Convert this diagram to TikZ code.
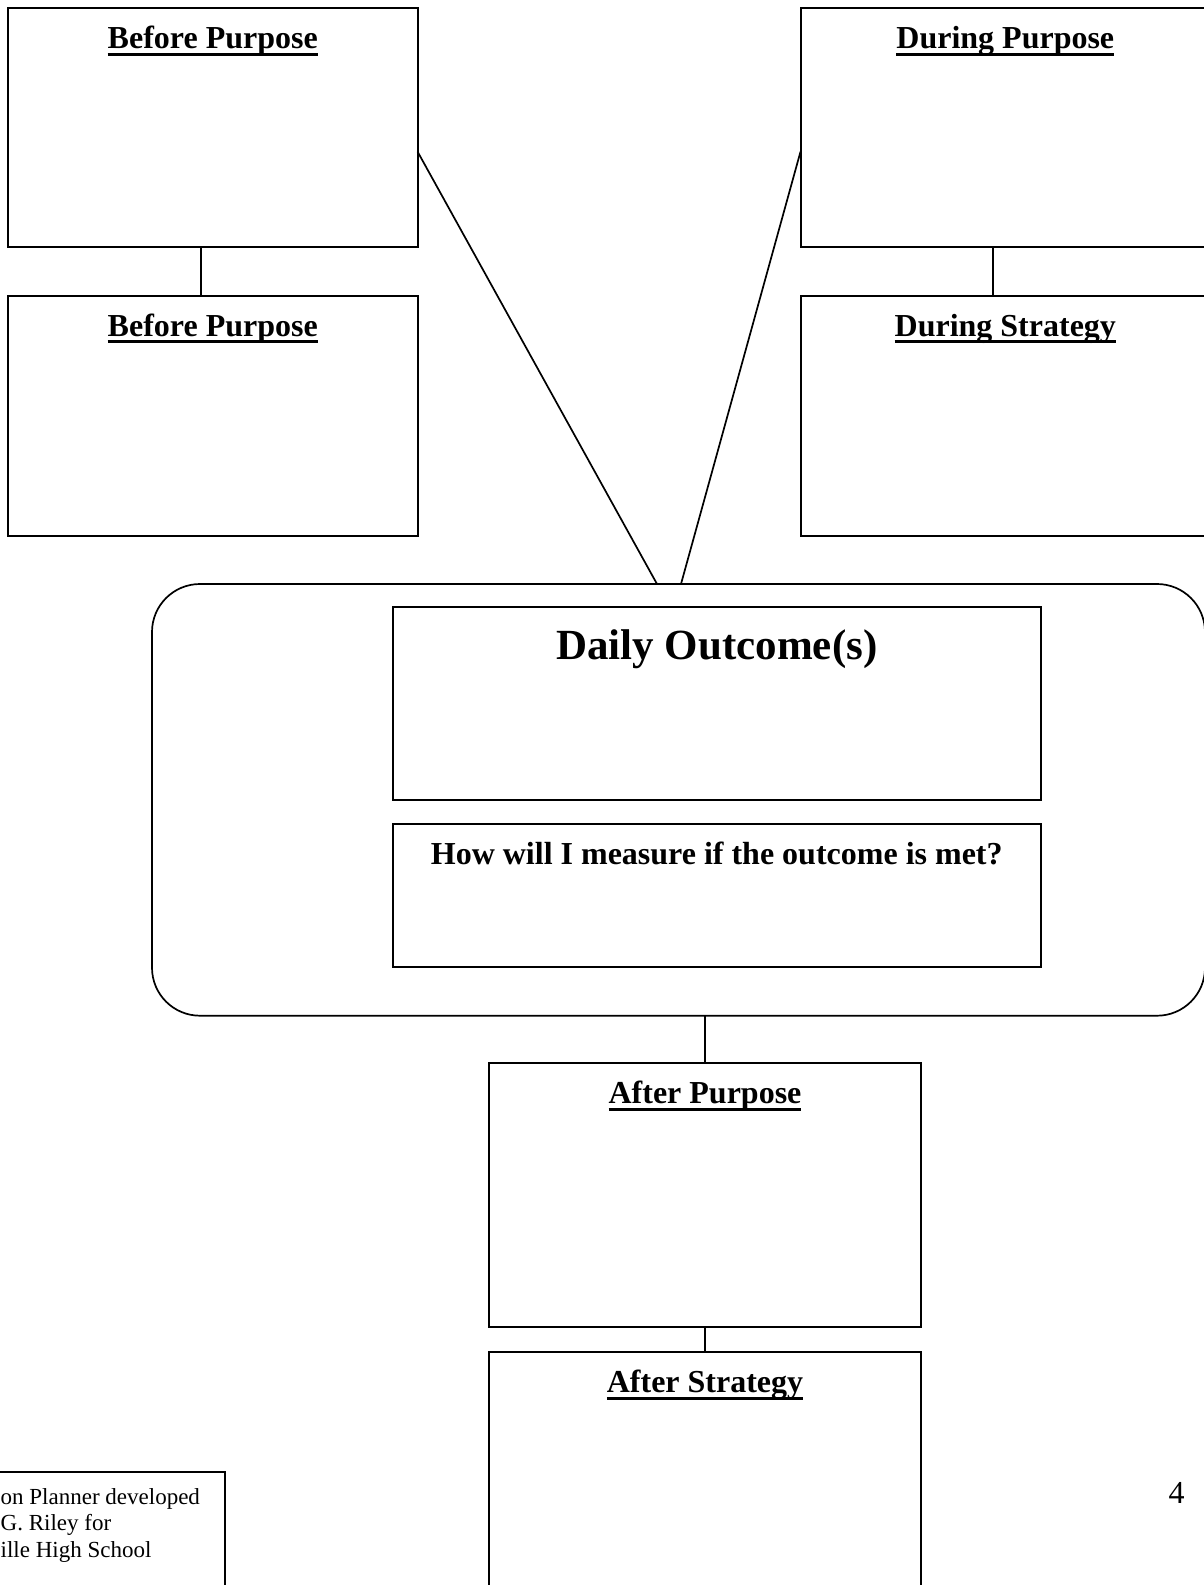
\documentclass[tikz,border=0pt]{standalone}
\usepackage{fontspec}
\setmainfont{Liberation Serif}
\newcommand\myul[1]{\setbox0\hbox{#1}\rlap{\rule[-7pt]{\wd0}{3pt}}\box0}
\begin{document}
\begin{tikzpicture}[x=1pt,y=-1pt,
  box/.style={draw, rectangle, line width=2pt, inner sep=0pt, outer sep=0pt},
  conn/.style={line width=1.7pt},
  title/.style={anchor=base, inner sep=0pt, font=\bfseries\fontsize{32}{38}\selectfont}]
\useasboundingbox (0,0) rectangle (1204,1585);
\clip (0,0) rectangle (1204,1585);
\fill[white] (0,0) rectangle (1204,1585);
% guide coordinates
\coordinate (cx1) at (201,0);
\coordinate (cx2) at (992.7,0);
\coordinate (j1) at (657,0);
\coordinate (j2) at (681,0);
% left column
\node[box, minimum width=409.5pt, minimum height=239pt] (b1) at (212.75,127.5) {};
\node[box, minimum width=409.5pt, minimum height=240.5pt] (b2) at (212.75,415.75) {};
% right column
\node[box, minimum width=409.5pt, minimum height=239pt] (b3) at (1005.3,127.5) {};
\node[box, minimum width=409.5pt, minimum height=240.5pt] (b4) at (1005.3,415.75) {};
% central rounded frame
\node[box, rounded corners=48pt, line width=1.7pt, minimum width=1053pt, minimum height=431.7pt] (outer) at (678.5,799.85) {};
\node[box, minimum width=648.5pt, minimum height=192.5pt] (daily) at (716.75,703.25) {};
\node[box, minimum width=648.5pt, minimum height=143.8pt] (how) at (716.75,895.4) {};
% after column
\node[box, minimum width=432pt, minimum height=264pt] (ap) at (705,1195.3) {};
\node[box, minimum width=432pt, minimum height=248pt] (as) at (705,1476) {};
% footer box
\node[box, minimum width=245pt, minimum height=140pt] (foot) at (102.5,1542) {};
% titles
\node[title] (t1) at ([yshift=-40.5pt]b1.north) {\myul{Before Purpose}};
\node[title] (t2) at ([yshift=-40.5pt]b2.north) {\myul{Before Purpose}};
\node[title] (t3) at ([yshift=-40.5pt]b3.north) {\myul{During Purpose}};
\node[title] (t4) at ([yshift=-40.5pt]b4.north) {\myul{During Strategy}};
\node[anchor=base, inner sep=0pt, font=\bfseries\fontsize{43}{50}\selectfont] (td) at ([yshift=-52.5pt]daily.north) {Daily Outcome(s)};
\node[title] (th) at ([yshift=-40.5pt]how.north) {How will I measure if the outcome is met?};
\node[title] (t5) at ([yshift=-40.5pt]ap.north) {\myul{After Purpose}};
\node[title] (t6) at ([yshift=-40.5pt]as.north) {\myul{After Strategy}};
% footer text
\node[anchor=base west, inner sep=0pt, align=left, font=\fontsize{23}{26.5}\selectfont] (ft) at (0.5,1557) {on Planner developed\\G. Riley for\\ille High School};
\node[anchor=base, inner sep=0pt, font=\fontsize{32}{38}\selectfont] (pg) at (1176.5,1503) {4};
% connectors
\draw[conn] (b1.south -| cx1) -- (b2.north -| cx1);
\draw[conn] (b3.south -| cx2) -- (b4.north -| cx2);
\draw[conn] ([yshift=-24pt]b1.east) -- (outer.north -| j1);
\draw[conn] ([yshift=-24pt]b3.west) -- (outer.north -| j2);
\draw[conn] (outer.south -| ap.north) -- (ap.north);
\draw[conn] (ap.south) -- (as.north);
\end{tikzpicture}
\end{document}
